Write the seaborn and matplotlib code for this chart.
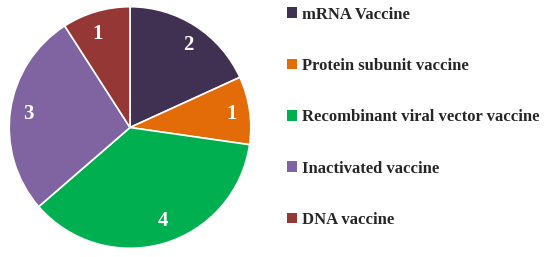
import matplotlib
matplotlib.use("Agg")
import matplotlib.pyplot as plt
import seaborn as sns
from matplotlib.patches import Patch

categories = ["mRNA Vaccine", "Protein subunit vaccine", "Recombinant viral vector vaccine",
              "Inactivated vaccine", "DNA vaccine"]
counts = [2, 1, 4, 3, 1]
colors = ["#403152", "#E36C09", "#00B050", "#8064A2", "#953735"]

sns.set_theme(style="white")
plt.rcParams["font.family"] = ["Liberation Serif", "DejaVu Serif"]

fig = plt.figure(figsize=(5.5, 2.57), dpi=100)
ax = fig.add_axes([8 / 550, 7.5 / 257, 244 / 550, 244 / 257])

wedges, texts = ax.pie(counts, colors=colors, startangle=90, counterclock=False,
                       labels=[str(c) for c in counts], labeldistance=0.81,
                       wedgeprops=dict(edgecolor="white", linewidth=1.2),
                       textprops=dict(color="white", fontsize=15, fontweight="bold"))
ax.set_xlim(-1.01, 1.01)
ax.set_ylim(-1.01, 1.01)
ax.set_aspect("equal")

handles = [Patch(facecolor=c, edgecolor="none") for c in colors]
leg = fig.legend(handles, categories, loc="upper left", bbox_to_anchor=(285 / 550, 1 - 5 / 257),
                 frameon=False, prop=dict(family=["Liberation Serif"], weight="bold", size=12),
                 handlelength=0.6, handleheight=0.6, handletextpad=0.3,
                 labelspacing=2.12, borderaxespad=0, borderpad=0.1)

fig.savefig("out.png", dpi=100, facecolor="white")
